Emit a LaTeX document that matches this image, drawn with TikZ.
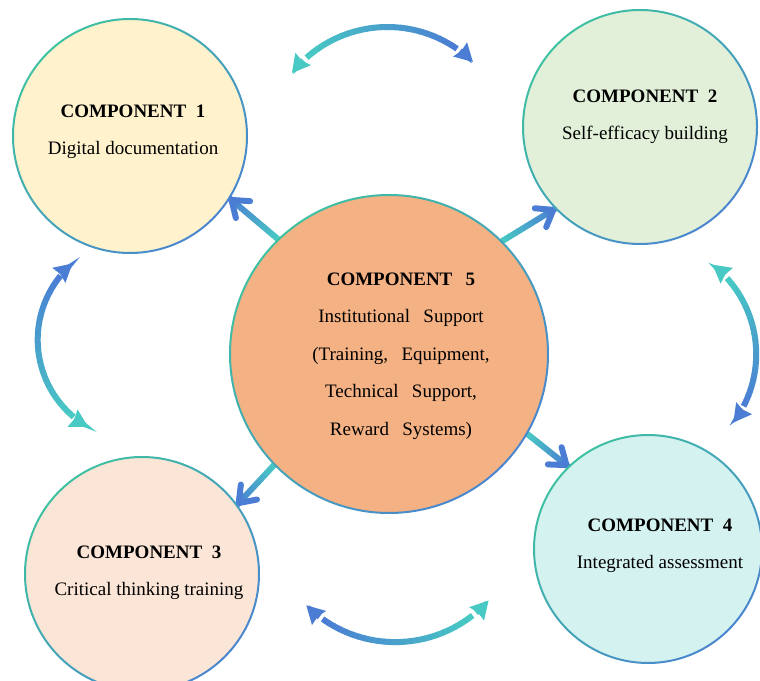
\documentclass[tikz,border=0pt]{standalone}
\usepackage{fontspec}
\setmainfont{Liberation Serif}
\usepackage{tikz}
\usetikzlibrary{arrows.meta,calc,backgrounds}

\definecolor{arrteal}{HTML}{48C9C3}
\definecolor{arrblue}{HTML}{4A7DD3}
\definecolor{rimteal}{HTML}{3EC1A2}
\definecolor{rimblue}{HTML}{4A86CF}
\definecolor{compA}{HTML}{FFF2CC}
\definecolor{compB}{HTML}{E2F0D9}
\definecolor{compC}{HTML}{FBE5D6}
\definecolor{compD}{HTML}{D4F2EF}
\definecolor{compE}{HTML}{F4B183}

\newcommand\widespaces{\spaceskip=0.7em\relax}

\tikzset{
  comp/.style={circle,inner sep=0pt,outer sep=0pt,fill=#1},
  comptext/.style={align=center,font=\fontsize{19}{37.5}\selectfont},
  rim/.style={even odd rule,top color=rimteal,bottom color=rimblue,shading angle=45},
  flow/.style={line width=6pt},
}

\begin{document}
\begin{tikzpicture}[x=1pt,y=1pt]
  \useasboundingbox (0,0) rectangle (760,680);
  % the five components
  \node[comp=compA,minimum size=234pt] (c1) at (130,544) {};
  \node[comp=compB,minimum size=234pt] (c2) at (640,553) {};
  \node[comp=compC,minimum size=234pt] (c3) at (142,106) {};
  \node[comp=compD,minimum size=228pt] (c4) at (648,131) {};
  \node[comp=compE,minimum size=318pt] (c5) at (389,326) {};
  \foreach \n/\r in {c1/117,c2/117,c3/117,c4/114,c5/159}
    \shade[rim] (\n) circle[radius=\r+1] (\n) circle[radius=\r-1];
  \node[comptext] (t1) at (133,548) {\textbf{COMPONENT~~1}\\Digital documentation};
  \node[comptext] (t2) at (645,563) {\textbf{COMPONENT~~2}\\Self-efficacy building};
  \node[comptext] (t3) at (149,107) {\textbf{COMPONENT~~3}\\Critical thinking training};
  \node[comptext] (t4) at (660,134) {\textbf{COMPONENT~~4}\\Integrated assessment};
  \node[comptext,font=\fontsize{19}{37.5}\selectfont\widespaces] (t5) at (401,324)
    {\textbf{COMPONENT 5}\\Institutional Support\\(Training, Equipment,\\Technical Support,\\Reward Systems)};
  \begin{scope}[on background layer]
    % support flows out of component 5
    \foreach \a/\b in {c5.134/c1.-32,c5.45/c2.224,c5.224/c3.36,c5.-30/c4.134}{
      \foreach \k in {0,...,19}{
        \pgfmathtruncatemacro\p{\k*100/19}
        \draw[flow,arrblue!\p!arrteal] ($(\a)!\k/20!(\b)$) -- ($(\a)!\k/20+0.06!(\b)$);}
      \draw[flow,arrblue,-{Straight Barb[length=15pt,width=22pt,round]}] ($(\a)!0.9!(\b)$) -- (\b);}
  \end{scope}
  % two-way arcs between neighbours
  \foreach \cx/\cy/\r/\sa/\ea in {387.4/531/122/141.5/45.5,395.2/163.6/125.7/318/225,
                                 138.6/340.3/100.9/240/131,642.6/325.8/113.6/52/-37}{
    \pgfmathsetmacro\d{\ea-\sa}
    \pgfmathsetmacro\h{sign(\d)*10}
    \foreach \k in {0,...,23}{
      \pgfmathtruncatemacro\p{\k*100/23}
      \pgfmathsetmacro\u{\sa+\h+(\d-2*\h)*\k/24}
      \pgfmathsetmacro\v{\sa+\h+(\d-2*\h)*(\k+1.1)/24}
      \draw[flow,arrblue!\p!arrteal] (\cx,\cy) ++(\u:\r) arc[start angle=\u,end angle=\v,radius=\r];}
    \draw[flow,arrteal,-{Stealth[length=18pt,width=20pt,inset=2pt,line width=0pt]}]
      (\cx,\cy) ++({\sa+\h+2}:\r) arc[start angle=\sa+\h+2,end angle=\sa,radius=\r];
    \draw[flow,arrblue,-{Stealth[length=18pt,width=20pt,inset=2pt,line width=0pt]}]
      (\cx,\cy) ++({\ea-\h-2}:\r) arc[start angle=\ea-\h-2,end angle=\ea,radius=\r];}
\end{tikzpicture}
\end{document}
